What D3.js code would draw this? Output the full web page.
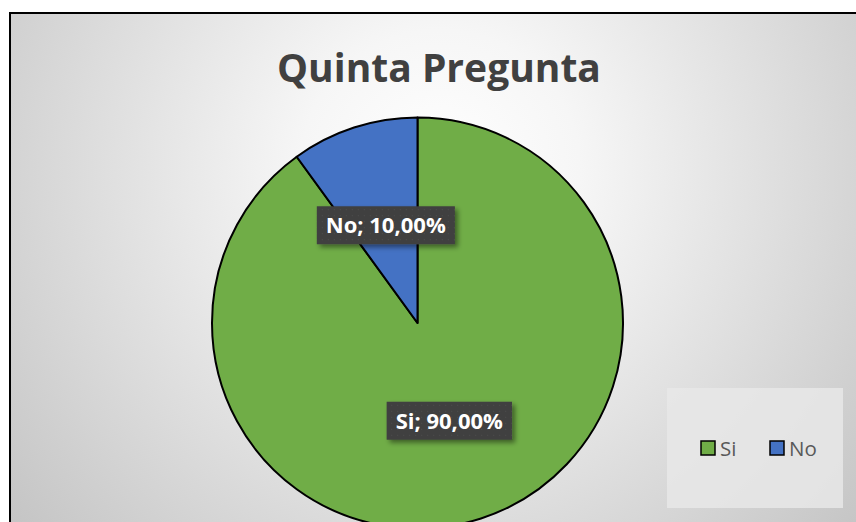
<!DOCTYPE html>
<html>
<head>
<meta charset="utf-8">
<script src="https://cdn.jsdelivr.net/npm/d3@7"></script>
<style>
  body { margin: 0; background: #fff; }
  svg { display: block; }
</style>
</head>
<body>
<div id="chart"></div>
<script>
// Datos del gráfico
const titleText = "Quinta Pregunta";
const categories = ["Si", "No"];
const values = [90, 10];
const colors = ["#70AD47", "#4472C4"];

const width = 856, height = 522;

const svg = d3.select("#chart")
    .append("svg")
    .attr("width", width)
    .attr("height", height);

const defs = svg.append("defs");

// Fondo con degradado radial
const grad = defs.append("radialGradient")
    .attr("id", "bg")
    .attr("gradientUnits", "userSpaceOnUse")
    .attr("cx", 440).attr("cy", 170).attr("r", 560);
grad.append("stop").attr("offset", "0%").attr("stop-color", "#ffffff");
grad.append("stop").attr("offset", "25%").attr("stop-color", "#f6f6f6");
grad.append("stop").attr("offset", "100%").attr("stop-color", "#c4c4c4");

// Patrón de puntos para las etiquetas
const pat = defs.append("pattern")
    .attr("id", "dots")
    .attr("width", 6).attr("height", 6)
    .attr("patternUnits", "userSpaceOnUse");
pat.append("rect").attr("width", 6).attr("height", 6).attr("fill", "#404040");
pat.append("rect").attr("x", 2).attr("y", 2).attr("width", 1).attr("height", 1).attr("fill", "#505050");

// Sombra
const shadow = defs.append("filter")
    .attr("id", "shadow")
    .attr("x", "-20%").attr("y", "-30%").attr("width", "150%").attr("height", "180%");
shadow.append("feDropShadow")
    .attr("dx", 3).attr("dy", 3).attr("stdDeviation", 2.5)
    .attr("flood-color", "#000").attr("flood-opacity", 0.45);

// Marco del gráfico
svg.append("rect")
    .attr("x", 10).attr("y", 13)
    .attr("width", width + 20).attr("height", height + 20)
    .attr("fill", "url(#bg)")
    .attr("stroke", "#000")
    .attr("stroke-width", 2);

// Título
svg.append("text")
    .attr("x", 439)
    .attr("y", 82)
    .attr("text-anchor", "middle")
    .attr("font-family", "Open Sans, sans-serif")
    .attr("font-weight", "bold")
    .attr("font-size", 39)
    .attr("fill", "#404040")
    .text(titleText);

// Pastel
const radius = 205.5;
const cx = 417.5, cy = 323;

const data = categories.map((c, i) => ({ name: c, value: values[i], color: colors[i] }));

const pie = d3.pie()
    .value(d => d.value)
    .sort(null)
    .startAngle(0)
    .endAngle(2 * Math.PI);

const arc = d3.arc().innerRadius(0).outerRadius(radius);

const chart = svg.append("g")
    .attr("transform", `translate(${cx},${cy})`);

const arcs = pie(data);

chart.selectAll("path")
    .data(arcs)
    .join("path")
    .attr("d", arc)
    .attr("fill", d => d.data.color)
    .attr("stroke", "#000")
    .attr("stroke-width", 2)
    .attr("stroke-linejoin", "round");

// Etiquetas de datos
const fmt = v => (v / d3.sum(values) * 100).toFixed(2).replace(".", ",") + "%";

const labels = chart.selectAll("g.label")
    .data(arcs)
    .join("g")
    .attr("class", "label")
    .attr("transform", d => `translate(${arc.centroid(d)})`);

labels.each(function (d) {
    const g = d3.select(this);
    const t = g.append("text")
        .attr("text-anchor", "middle")
        .attr("dy", "0.36em")
        .attr("font-family", "Open Sans, sans-serif")
        .attr("font-weight", "bold")
        .attr("font-size", 22)
        .attr("fill", "#fff")
        .text(d.data.name + "; " + fmt(d.data.value));
    const bb = t.node().getBBox();
    g.insert("rect", "text")
        .attr("x", bb.x - 9)
        .attr("y", -19)
        .attr("width", bb.width + 18)
        .attr("height", 38)
        .attr("fill", "url(#dots)")
        .attr("filter", "url(#shadow)");
});

// Leyenda
const legend = svg.append("g");
legend.append("rect")
    .attr("x", 667).attr("y", 388)
    .attr("width", 176).attr("height", 120)
    .attr("fill", "#e8e8e8")
    .attr("opacity", 0.85);

const lx = d3.scalePoint()
    .domain(categories)
    .range([701, 770]);

const item = legend.selectAll("g")
    .data(data)
    .join("g")
    .attr("transform", d => `translate(${lx(d.name)},441)`);

item.append("rect")
    .attr("width", 14).attr("height", 14)
    .attr("fill", d => d.color)
    .attr("stroke", "#000")
    .attr("stroke-width", 1.5);

item.append("text")
    .attr("x", 19)
    .attr("y", 14.5)
    .attr("font-family", "Open Sans, sans-serif")
    .attr("font-size", 20.5)
    .attr("fill", "#595959")
    .text(d => d.name);
</script>
</body>
</html>
